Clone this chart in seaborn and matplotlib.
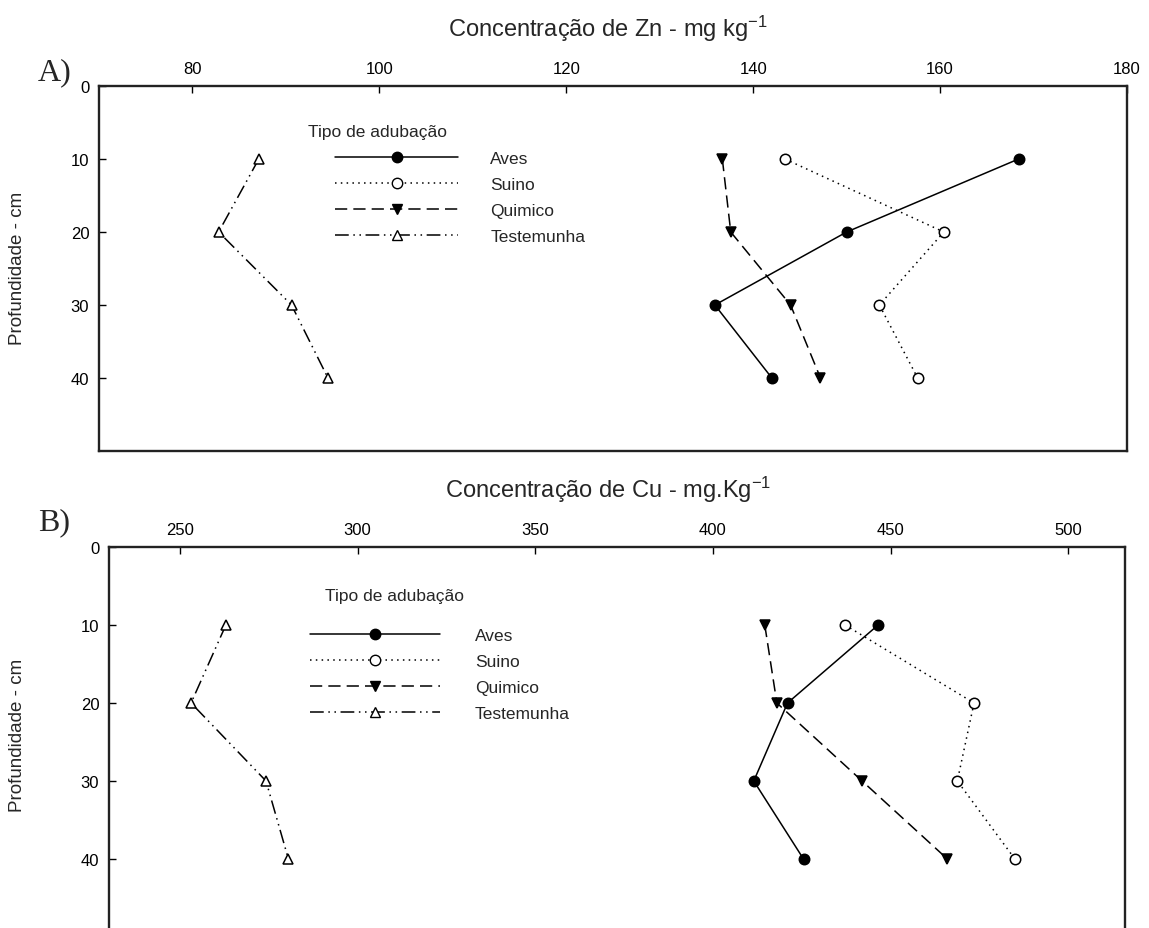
import matplotlib
matplotlib.use("Agg")
import matplotlib.pyplot as plt
import seaborn as sns
import numpy as np
import pandas as pd
from matplotlib.lines import Line2D

sns.set_theme(style="white")
plt.rcParams['font.family'] = ['Liberation Sans', 'DejaVu Sans']
plt.rcParams['mathtext.fontset'] = 'custom'
plt.rcParams['mathtext.rm'] = 'Liberation Sans'
plt.rcParams['mathtext.it'] = 'Liberation Sans'
plt.rcParams['mathtext.bf'] = 'Liberation Sans'

# ---- data ----
depths = [10, 20, 30, 40]
series = ["Aves", "Suino", "Quimico", "Testemunha"]

zn_aves = [168.4, 150.0, 135.9, 142.0]
zn_suino = [143.4, 160.4, 153.5, 157.6]
zn_quimico = [136.7, 137.6, 144.0, 147.2]
zn_testemunha = [87.1, 82.8, 90.6, 94.5]

cu_aves = [446.5, 421.0, 411.5, 425.5]
cu_suino = [437.2, 473.5, 468.8, 485.0]
cu_quimico = [414.6, 418.0, 442.0, 466.0]
cu_testemunha = [262.9, 253.1, 274.2, 280.5]

zn_ticks = [80, 100, 120, 140, 160, 180]
cu_ticks = [250, 300, 350, 400, 450, 500]
depth_ticks = [0, 10, 20, 30, 40]

styles = {
    "Aves": dict(ls='-', marker='o', mfc='black'),
    "Suino": dict(ls=(0, (1, 2.8)), marker='o', mfc='white'),
    "Quimico": dict(ls=(0, (8, 4)), marker='v', mfc='black'),
    "Testemunha": dict(ls=(0, (9, 3, 1, 3, 1, 3)), marker='^', mfc='white'),
}

W, H = 1149, 929
fig = plt.figure(figsize=(W / 100, H / 100), dpi=100)


def px_axes(left, top, right, bottom):
    return fig.add_axes([left / W, 1 - bottom / H, (right - left) / W, (bottom - top) / H])


def draw_panel(ax, data, xlim, xticks, title, letter, letter_xy, title_y, ylab_y,
               leg_title_xy, leg_anchor, handlelength, textpad):
    for name, vals in zip(series, data):
        st = styles[name]
        df = pd.DataFrame({"conc": vals, "depth": depths})
        sns.lineplot(data=df, x="conc", y="depth", sort=False, orient="y", ax=ax,
                     color='black', linewidth=1.1, marker=st['marker'],
                     markersize=7.5, markerfacecolor=st['mfc'],
                     markeredgecolor='black', markeredgewidth=1.1)
        ln = ax.get_lines()[-1]
        ln.set_linestyle(st['ls'])
    ax.set_xlim(*xlim)
    ax.set_ylim(50, 0)
    ax.xaxis.tick_top()
    ax.set_xticks(xticks)
    ax.set_yticks(depth_ticks)
    ax.tick_params(axis='both', direction='in', length=5, width=1, colors='black', pad=7)
    ax.tick_params(axis='x', top=True, bottom=False, labelsize=12)
    ax.tick_params(axis='y', left=True, right=False, labelsize=12)
    for sp in ax.spines.values():
        sp.set_linewidth(1.7)
        sp.set_color('#222222')
    ax.set_xlabel("")
    ax.set_ylabel("")
    ax.grid(False)
    fig.text(18 / W, 1 - ylab_y / H, "Profundidade - cm", rotation=90, ha='center',
             va='center', fontsize=13.5)
    fig.text(608 / W, 1 - title_y / H, title, ha='center', va='center', fontsize=17)
    fig.text(letter_xy[0] / W, 1 - letter_xy[1] / H, letter, ha='left', va='center',
             fontsize=23, family=['Liberation Serif', 'DejaVu Serif'])
    # legend
    fig.text(leg_title_xy[0] / W, 1 - leg_title_xy[1] / H, "Tipo de adubação",
             ha='left', va='center', fontsize=12.5)
    handles = []
    for name in series:
        st = styles[name]
        handles.append(Line2D([0], [0], color='black', lw=1.1, ls=st['ls'], marker=st['marker'],
                              markersize=7.5, markerfacecolor=st['mfc'], markeredgecolor='black'))
    fig.legend(handles=handles, labels=series, loc='upper left',
               bbox_to_anchor=(leg_anchor[0] / W, 1 - leg_anchor[1] / H), frameon=False,
               handlelength=handlelength, handletextpad=textpad, labelspacing=0.62,
               fontsize=12.5, numpoints=1, borderpad=0, borderaxespad=0)


axA = px_axes(99, 87, 1127, 452)
draw_panel(axA, [zn_aves, zn_suino, zn_quimico, zn_testemunha], (70, 180), zn_ticks,
           "Concentração de Zn - mg kg$^{-1}$", "A)", (38, 73), 29, 268,
           (308, 133), (335, 152), 7.1, 1.85)

axB = px_axes(109, 548, 1125, 938)
draw_panel(axB, [cu_aves, cu_suino, cu_quimico, cu_testemunha], (230, 516), cu_ticks,
           "Concentração de Cu - mg.Kg$^{-1}$", "B)", (38, 523), 490, 735,
           (325, 597), (310, 629), 7.5, 2.0)

fig.savefig("out.png", dpi=100, facecolor='white')
